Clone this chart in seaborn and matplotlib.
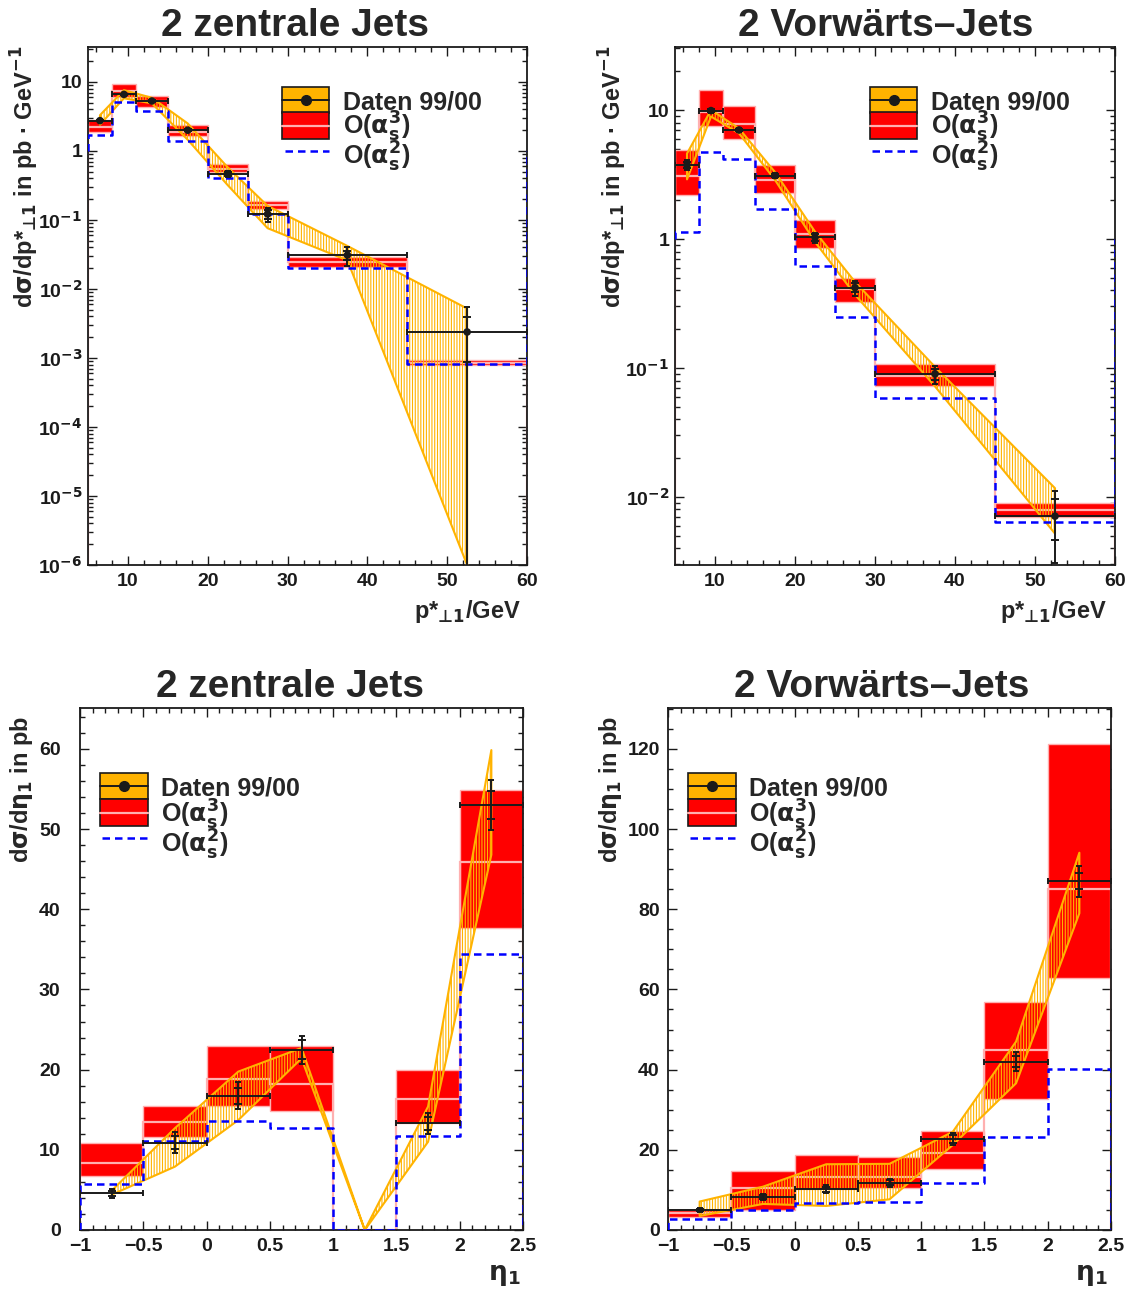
import numpy as np
import matplotlib
matplotlib.use("Agg")
import matplotlib.pyplot as plt
import seaborn as sns
from matplotlib import font_manager
from matplotlib.ft2font import FT2Font
from matplotlib.patches import Rectangle
from matplotlib.lines import Line2D
from matplotlib.ticker import (FixedLocator, FixedFormatter, MultipleLocator,
                               LogLocator, NullFormatter, FuncFormatter)

# ---------------- binning ----------------
pt_edges = [5, 8, 11, 15, 20, 25, 30, 45, 60]
eta_edges = [-1.0, -0.5, 0.0, 0.5, 1.0, 1.5, 2.0, 2.5]

# ---------------- 2 zentrale Jets, dsigma/dpT* ----------------
ptc_data = [2.75, 6.6, 5.3, 2.0, 0.47, 0.122, 0.031, 0.00238]
ptc_tot = [0.12, 0.25, 0.18, 0.08, 0.045, 0.028, 0.0092, 0.0031]
ptc_stat = [0.07, 0.15, 0.12, 0.05, 0.03, 0.018, 0.005, 0.0015]
ptc_sys_lo = [2.4, 5.8, 4.9, 1.45, 0.32, 0.076, 0.026, 1e-6]
ptc_sys_hi = [3.3, 7.6, 5.9, 2.5, 0.58, 0.16, 0.042, 0.0052]
ptc_nlo = [2.2, 7.4, 5.35, 1.9, 0.55, 0.165, 0.025, 0.00085]
ptc_nlo_lo = [1.9, 6.0, 4.4, 1.65, 0.50, 0.143, 0.021, 0.00079]
ptc_nlo_hi = [2.81, 9.3, 6.3, 2.38, 0.64, 0.188, 0.0288, 0.00092]
ptc_lo = [1.71, 5.2, 3.84, 1.41, 0.41, 0.121, 0.020, 0.00081]

# ---------------- 2 Vorwaerts-Jets, dsigma/dpT* ----------------
ptf_data = [3.75, 9.9, 7.0, 3.1, 1.03, 0.42, 0.090, 0.0071]
ptf_tot = [0.33, 0.35, 0.25, 0.13, 0.093, 0.056, 0.0145, 0.0040]
ptf_stat = [0.2, 0.2, 0.15, 0.08, 0.06, 0.035, 0.009, 0.0025]
ptf_sys_lo = [2.9, 8.9, 6.6, 2.87, 0.95, 0.37, 0.072, 0.0052]
ptf_sys_hi = [4.6, 10.0, 7.2, 3.3, 1.14, 0.465, 0.102, 0.0117]
ptf_nlo = [3.07, 9.7, 7.8, 2.87, 1.09, 0.41, 0.0867, 0.0079]
ptf_nlo_lo = [2.19, 7.5, 6.0, 2.28, 0.857, 0.327, 0.073, 0.00697]
ptf_nlo_hi = [4.9, 14.3, 10.7, 3.75, 1.40, 0.50, 0.107, 0.00904]
ptf_lo = [1.14, 4.7, 4.17, 1.7, 0.618, 0.247, 0.0589, 0.00637]

# ---------------- 2 zentrale Jets, dsigma/deta ----------------
etac_data = [4.57, 10.9, 16.75, 22.5, np.nan, 13.3, 53.0]
etac_tot = [0.55, 1.3, 1.65, 1.75, np.nan, 1.3, 3.1]
etac_stat = [0.35, 0.8, 1.0, 1.2, np.nan, 0.8, 1.8]
etac_sys_lo = [4.4, 7.9, 13.7, 21.4, 0.0, 11.0, 46.8]
etac_sys_hi = [4.9, 12.7, 19.75, 22.7, 0.0, 15.4, 59.85]
etac_nlo = [8.4, 13.5, 18.8, 18.2, 0.0, 16.3, 45.9]
etac_nlo_lo = [6.7, 11.6, 15.5, 14.8, 0.0, 13.4, 37.7]
etac_nlo_hi = [10.8, 15.5, 23.0, 23.0, 0.0, 19.95, 54.9]
etac_lo = [5.7, 11.1, 13.65, 12.7, 0.0, 11.75, 34.4]

# ---------------- 2 Vorwaerts-Jets, dsigma/deta ----------------
etaf_data = [4.99, 8.3, 10.2, 11.8, 22.7, 42.0, 87.0]
etaf_tot = [0.5, 0.8, 0.9, 1.0, 1.6, 2.4, 3.9]
etaf_stat = [0.3, 0.5, 0.6, 0.6, 1.0, 1.4, 2.0]
etaf_sys_lo = [3.5, 6.5, 6.0, 7.65, 21.2, 36.6, 79.0]
etaf_sys_hi = [7.1, 10.8, 16.4, 16.5, 24.5, 47.0, 94.1]
etaf_nlo = [4.2, 10.4, 13.3, 13.3, 19.1, 45.0, 85.0]
etaf_nlo_lo = [3.2, 5.0, 10.2, 10.4, 15.1, 32.6, 62.8]
etaf_nlo_hi = [5.0, 14.8, 18.7, 18.1, 24.8, 56.9, 121.2]
etaf_lo = [2.65, 5.0, 6.8, 7.0, 11.6, 23.3, 40.2]

# ---------------- texts ----------------
PERP = "\u22a5"
titles = ["2 zentrale Jets", "2 Vorwärts\u2013Jets", "2 zentrale Jets", "2 Vorwärts\u2013Jets"]
pt_ylabel = "d$\\sigma$/dp*$_{" + PERP + "1}$ in pb \u00b7 GeV$^{-1}$"
pt_xlabel = "p*$_{" + PERP + "1}$/GeV"
eta_ylabel = "d$\\sigma$/d$\\eta_1$ in pb"
eta_xlabel = "$\\eta_1$"
legend_labels = ["Daten 99/00", "O($\\alpha_s^3$)", "O($\\alpha_s^2$)"]

# ---------------- style ----------------
ORANGE = "#ffb300"
RED = "#ff0000"
PINK = "#ffb0b0"
BLUE = "#0000ff"
DASH = (0, (3, 2))

sns.set_theme(style="ticks")
plt.rcParams["font.family"] = ["Liberation Sans", "DejaVu Sans"]
plt.rcParams["font.weight"] = "bold"


def pick_math_font():
    """First installed family/weight that carries every math glyph we use."""
    needed = PERP + "\u03c3\u03b1\u03b7\u2212" + "0123456789s"
    for fam in ["Liberation Sans", "DejaVu Sans", "Noto Sans", "Noto Sans CJK JP",
                "Open Sans", "Roboto"]:
        for weight in ["bold", "normal"]:
            try:
                path = font_manager.findfont(
                    font_manager.FontProperties(family=fam, weight=weight),
                    fallback_to_default=False)
                cmap = FT2Font(path).get_charmap()
            except Exception:
                continue
            if all(ord(ch) in cmap for ch in needed):
                return f"{fam}:weight={weight}"
    return "DejaVu Sans:weight=normal"


math_font = pick_math_font()
plt.rcParams["mathtext.fontset"] = "custom"
for key in ("rm", "it", "bf", "sf"):
    plt.rcParams["mathtext." + key] = math_font
plt.rcParams["mathtext.default"] = "rm"
plt.rcParams["hatch.linewidth"] = 0.8
plt.rcParams["axes.unicode_minus"] = True

W, H = 1128, 1297
fig = plt.figure(figsize=(W / 100, H / 100), dpi=100)
fig.patch.set_facecolor("white")


def fx(x):
    return x / W


def fy(y):
    return 1 - y / H


def px_axes(l, t, r, b):
    return fig.add_axes([fx(l), fy(b), (r - l) / W, (b - t) / H])


def draw_panel(ax, edges, data, tot, stat, sys_lo, sys_hi, nlo, nlo_lo, nlo_hi,
               lo, logy, ylim, mark_size):
    edges = np.asarray(edges, float)
    centers = 0.5 * (edges[:-1] + edges[1:])
    half = 0.5 * np.diff(edges)
    ymin = ylim[0]
    base_lo = 1.0 if logy else 0.0
    if logy:
        ax.set_yscale("log")

    # NLO uncertainty boxes and central value
    nlo_lo = np.asarray(nlo_lo, float)
    nlo_hi = np.asarray(nlo_hi, float)
    ax.bar(edges[:-1], nlo_hi - nlo_lo, width=np.diff(edges), bottom=nlo_lo,
           align="edge", color=RED, edgecolor=PINK, linewidth=1.0, zorder=1)
    ax.stairs(nlo, edges, baseline=ymin, color=PINK, linewidth=1.6, zorder=2)

    # systematic band of the data (hatched)
    ax.fill_between(centers, sys_lo, sys_hi, facecolor="none", edgecolor=ORANGE,
                    hatch="||||||", linewidth=1.5, zorder=3)

    # LO outline histogram
    lo = np.asarray(lo, float)
    xs = np.r_[edges[0], edges[:-1], edges[-1], edges[-1]]
    ys = np.r_[base_lo, lo, lo[-1], base_lo]
    sns.lineplot(x=xs, y=ys, ax=ax, sort=False, estimator=None,
                 drawstyle="steps-post", color=BLUE, linewidth=1.8,
                 linestyle=DASH, zorder=4)

    # data points with total and statistical errors
    data = np.asarray(data, float)
    ok = ~np.isnan(data)
    c, d = centers[ok], data[ok]
    t = np.asarray(tot, float)[ok]
    s = np.asarray(stat, float)[ok]
    if logy:
        lo_err = d - np.maximum(d - t, ymin * 1e-3)
    else:
        lo_err = t
    ax.errorbar(c, d, xerr=half[ok], fmt="none", ecolor="k", elinewidth=1.4,
                capsize=2.5, capthick=1.4, zorder=6)
    ax.errorbar(c, d, yerr=[lo_err, t], fmt="none", ecolor="k", elinewidth=1.4,
                capsize=2.5, capthick=1.4, zorder=6)
    ax.errorbar(c, d, yerr=s, fmt="none", ecolor="k", elinewidth=0,
                capsize=2.8, capthick=1.4, zorder=6)
    if mark_size > 0:
        sns.scatterplot(x=c, y=d, ax=ax, color="k", s=mark_size,
                        edgecolor="none", zorder=7)

    ax.set_xlim(edges[0], edges[-1])
    ax.set_ylim(*ylim)


def style_axes(ax, ypad):
    ax.set_facecolor("white")
    ax.grid(False)
    for sp in ax.spines.values():
        sp.set_color("k")
        sp.set_linewidth(1.3)
    ax.tick_params(which="both", direction="in", top=True, right=True,
                   bottom=True, left=True, colors="k", width=1.0)
    ax.tick_params(which="major", length=6.5, labelsize=14)
    ax.tick_params(which="minor", length=3.6)
    ax.tick_params(axis="x", which="major", pad=6)
    ax.tick_params(axis="y", which="major", pad=ypad)
    ax.set_xlabel("")
    ax.set_ylabel("")


def pow_label(k):
    if k == 0:
        return "1"
    if k == 1:
        return "10"
    return "10$^{%d}$" % k


def log_ticks(ax, kmin, kmax):
    ks = list(range(kmin, kmax + 1))
    ax.yaxis.set_major_locator(FixedLocator([10.0 ** k for k in ks]))
    ax.yaxis.set_major_formatter(FixedFormatter([pow_label(k) for k in ks]))
    ax.yaxis.set_minor_locator(LogLocator(base=10, subs=np.arange(2, 10), numticks=60))
    ax.yaxis.set_minor_formatter(NullFormatter())


def pt_xticks(ax):
    ax.xaxis.set_major_locator(FixedLocator([10, 20, 30, 40, 50, 60]))
    ax.xaxis.set_major_formatter(FuncFormatter(lambda v, p: f"{v:g}"))
    ax.xaxis.set_minor_locator(MultipleLocator(2))


def eta_xticks(ax):
    ax.xaxis.set_major_locator(MultipleLocator(0.5))
    ax.xaxis.set_major_formatter(
        FuncFormatter(lambda v, p: f"{v:g}".replace("-", "\u2212")))
    ax.xaxis.set_minor_locator(MultipleLocator(0.1))


def draw_legend(box_l, box_r, y_top, y_mid, y_bot, y_blue, blue_l, text_x, baselines):
    tr = fig.transFigure
    fig.add_artist(Rectangle((fx(box_l), fy(y_mid)), fx(box_r) - fx(box_l),
                             fy(y_top) - fy(y_mid), transform=tr,
                             facecolor=ORANGE, edgecolor="k", linewidth=1.2, zorder=5))
    fig.add_artist(Rectangle((fx(box_l), fy(y_bot)), fx(box_r) - fx(box_l),
                             fy(y_mid) - fy(y_bot), transform=tr,
                             facecolor=RED, edgecolor="k", linewidth=1.2, zorder=5))
    ym1 = 0.5 * (y_top + y_mid)
    ym2 = 0.5 * (y_mid + y_bot)
    fig.add_artist(Line2D([fx(box_l), fx(box_r)], [fy(ym1)] * 2, transform=tr,
                          color="k", linewidth=1.4, zorder=6))
    fig.add_artist(Line2D([fx(0.5 * (box_l + box_r))], [fy(ym1)], transform=tr,
                          marker="o", markersize=7, color="k", zorder=7))
    fig.add_artist(Line2D([fx(box_l), fx(box_r)], [fy(ym2)] * 2, transform=tr,
                          color=PINK, linewidth=1.6, zorder=6))
    fig.add_artist(Line2D([fx(blue_l), fx(box_r)], [fy(y_blue)] * 2, transform=tr,
                          color=BLUE, linewidth=1.8, linestyle=DASH, zorder=6))
    for lab, yb in zip(legend_labels, baselines):
        fig.text(fx(text_x), fy(yb), lab, ha="left", va="baseline",
                 fontsize=18, fontweight="bold")


# ---------------- panels ----------------
ax1 = px_axes(88, 47, 527, 565)
draw_panel(ax1, pt_edges, ptc_data, ptc_tot, ptc_stat, ptc_sys_lo, ptc_sys_hi,
           ptc_nlo, ptc_nlo_lo, ptc_nlo_hi, ptc_lo, True, (1e-6, 32.1), 30)
style_axes(ax1, 4)
log_ticks(ax1, -6, 1)
pt_xticks(ax1)

ax2 = px_axes(675, 47, 1115, 565)
draw_panel(ax2, pt_edges, ptf_data, ptf_tot, ptf_stat, ptf_sys_lo, ptf_sys_hi,
           ptf_nlo, ptf_nlo_lo, ptf_nlo_hi, ptf_lo, True, (0.00297, 30.8), 30)
style_axes(ax2, 4)
log_ticks(ax2, -2, 1)
pt_xticks(ax2)

ax3 = px_axes(80, 708, 523, 1230)
draw_panel(ax3, eta_edges, etac_data, etac_tot, etac_stat, etac_sys_lo, etac_sys_hi,
           etac_nlo, etac_nlo_lo, etac_nlo_hi, etac_lo, False, (0, 65.1), 0)
style_axes(ax3, 14)
ax3.yaxis.set_major_locator(MultipleLocator(10))
ax3.yaxis.set_minor_locator(MultipleLocator(2))
eta_xticks(ax3)

ax4 = px_axes(668, 708, 1111, 1230)
draw_panel(ax4, eta_edges, etaf_data, etaf_tot, etaf_stat, etaf_sys_lo, etaf_sys_hi,
           etaf_nlo, etaf_nlo_lo, etaf_nlo_hi, etaf_lo, False, (0, 130.2), 0)
style_axes(ax4, 6)
ax4.yaxis.set_major_locator(MultipleLocator(20))
ax4.yaxis.set_minor_locator(MultipleLocator(5))
eta_xticks(ax4)

# ---------------- titles and axis labels ----------------
for (cx, by), txt in zip([(295, 36), (886, 36), (290, 697), (882, 697)], titles):
    fig.text(fx(cx), fy(by), txt, ha="center", va="baseline", fontsize=28,
             fontweight="bold")

for x_px in (521, 1107):
    fig.text(fx(x_px), fy(618), pt_xlabel, ha="right", va="baseline",
             fontsize=17, fontweight="bold")
for x_px in (521, 1108):
    fig.text(fx(x_px), fy(1280), eta_xlabel, ha="right", va="baseline",
             fontsize=19, fontweight="bold")

for x_px in (25, 613):
    fig.text(fx(x_px), fy(45), pt_ylabel, ha="center", va="top", rotation=90,
             fontsize=17, fontweight="bold")
for x_px in (22, 610):
    fig.text(fx(x_px), fy(716), eta_ylabel, ha="center", va="top", rotation=90,
             fontsize=17, fontweight="bold")

# ---------------- legends ----------------
draw_legend(282, 329, 87, 112.5, 138.5, 151, 285, 343, [109, 135, 165])
draw_legend(870, 917, 87, 112.5, 138.5, 151, 872, 931, [109, 135, 165])
draw_legend(100, 148, 773, 799, 826, 838, 102, 161, [796, 823, 853])
draw_legend(688, 736, 773, 799, 826, 838, 690, 749, [796, 823, 853])

fig.savefig("out.png", dpi=100)
